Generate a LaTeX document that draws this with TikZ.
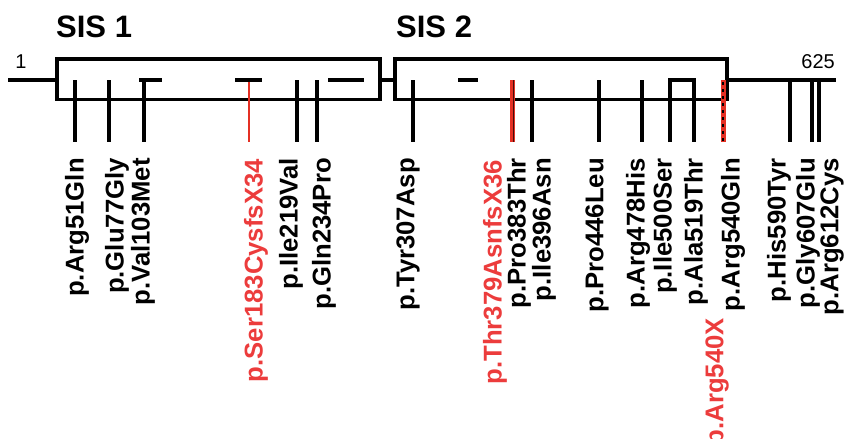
\documentclass[tikz,border=0pt]{standalone}
\usepackage{fontspec}
\setmainfont{Liberation Sans}
\setsansfont{Liberation Sans}
\usepackage{graphicx}
\definecolor{mutred}{RGB}{228,48,36}
\definecolor{lblred}{RGB}{236,60,60}
\begin{document}
\begin{tikzpicture}[x=1pt,y=-1pt,
  bb/.style={line width=3.3pt,black},
  mutline/.style={line width=3.1pt,black},
  redthin/.style={line width=2.6pt,mutred},
  redthick/.style={line width=5pt,mutred},
  lbl/.style={rotate=90,anchor=east,inner sep=0pt,font=\fontsize{25.7}{26}\selectfont\bfseries},
  redlbl/.style={lbl,text=lblred},
  sis/.style={anchor=base west,inner sep=0pt,font=\fontsize{31}{32}\selectfont\bfseries},
  endlbl/.style={inner sep=0pt,font=\fontsize{20}{21}\selectfont}]
\useasboundingbox (0,0) rectangle (844,439);
% titles
\node[sis] (sis1) at (56,37.5) {SIS 1};
\node[sis] (sis2) at (396,37.5) {SIS 2};
\node[endlbl,anchor=base] (n1) at (21,68) {1};
\node[endlbl,anchor=base east] (n625) at (835,68) {625};
% backbone
\draw[bb] (8,80) -- (57,80);
\draw[bb] (380,80) -- (395,80);
\draw[bb] (727,80) -- (836,80);
\draw[bb] (57,59) rectangle (380,99.5);
\draw[bb] (395,59) rectangle (727,99.5);
% box 1 features
\draw[mutline] (75,80) -- (75,142);
\draw[mutline] (109,80) -- (109,142);
\draw[mutline] (139,80) -- (162,80);
\draw[mutline] (144,80) -- (144,142);
\draw[mutline] (235,80) -- (262,80);
\draw[redthin] (249,81.5) -- (249,142);
\draw[mutline] (297,80) -- (297,142);
\draw[mutline] (317,80) -- (317,142);
\draw[mutline] (328,80) -- (364,80);
% box 2 features
\draw[mutline] (413,80) -- (413,142);
\draw[mutline] (458,80) -- (478,80);
\draw[redthick] (512,80) -- (512,142);
\draw[line width=1pt,black!70!mutred] (513.8,80) -- (513.8,142);
\draw[mutline] (532,80) -- (532,142);
\draw[mutline] (599,80) -- (599,142);
\draw[mutline] (642,80) -- (642,142);
\draw[mutline,line join=miter] (670,142) -- (670,80) -- (694,80) -- (694,142);
\draw[redthick] (723,80) -- (723,142);
\draw[line width=1.2pt,black,dash pattern=on 3pt off 4pt] (723,82) -- (723,142);
% after box 2
\draw[mutline] (790,80) -- (790,142);
\draw[mutline] (812,80) -- (812,142);
\draw[mutline] (819,80) -- (819,142);
% labels
\node[lbl] (l51) at (77,158) {p.Arg51Gln};
\node[lbl] (l77) at (117,158) {p.Glu77Gly};
\node[lbl] (l103) at (143,158) {p.Val103Met};
\node[redlbl] (l183) at (256,159) {p.Ser183CysfsX34};
\node[lbl] (l219) at (291,158) {p.Ile219Val};
\node[lbl] (l234) at (324,158) {p.Gln234Pro};
\node[lbl] (l307) at (408,158) {p.Tyr307Asp};
\node[redlbl] (l379) at (495,160) {p.Thr379AsnfsX36};
\node[lbl] (l383) at (519,158) {p.Pro383Thr};
\node[lbl] (l396) at (544,158) {p.Ile396Asn};
\node[lbl] (l446) at (597,158) {p.Pro446Leu};
\node[lbl] (l478) at (638,158) {p.Arg478His};
\node[lbl] (l500) at (665,158) {p.Ile500Ser};
\node[lbl] (l519) at (696,158) {p.Ala519Thr};
\node[lbl] (l540q) at (733,158) {p.Arg540Gln};
\node[redlbl] (l540x) at (717,318) {p.Arg540X};
\node[lbl] (l590) at (779,158) {p.His590Tyr};
\node[lbl] (l607) at (808,158) {p.Gly607Glu};
\node[lbl] (l612) at (832,158) {p.Arg612Cys};
\end{tikzpicture}
\end{document}
